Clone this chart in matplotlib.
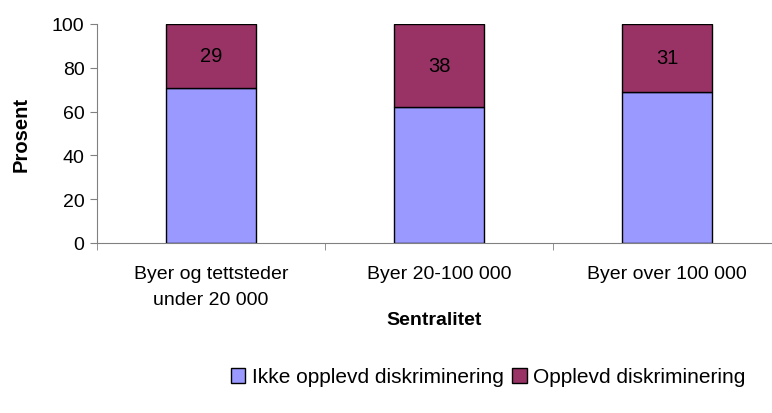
import matplotlib.pyplot as plt
import numpy as np

plt.rcParams['font.family'] = ['Liberation Sans', 'DejaVu Sans']

kategorier = ['Byer og tettsteder\nunder 20 000', 'Byer 20-100 000', 'Byer over 100 000']
ikke_opplevd = [71, 62, 69]
opplevd = [29, 38, 31]
serier = ['Ikke opplevd diskriminering', 'Opplevd diskriminering']

fig = plt.figure(figsize=(7.72, 4.14), dpi=100)
ax = fig.add_axes([97 / 772, 1 - 244 / 414, 675 / 772, 219 / 414])

x = np.arange(len(kategorier))
b1 = ax.bar(x, ikke_opplevd, width=0.395, color='#9999FF', edgecolor='black',
            linewidth=1, label=serier[0])
b2 = ax.bar(x, opplevd, width=0.395, bottom=ikke_opplevd, color='#993366',
            edgecolor='black', linewidth=1, label=serier[1])
for i, v in enumerate(opplevd):
    ax.text(x[i], ikke_opplevd[i] + v / 2, str(v), ha='center', va='center', fontsize=14.5)

ax.set_xlim(-0.5, 2.46)
ax.set_ylim(0, 100)
ax.set_yticks(range(0, 101, 20))
ax.set_xticks([-0.5, 0.5, 1.5], minor=True)
ax.set_xticks(x)
ax.set_xticklabels(kategorier, fontsize=14, linespacing=1.7)
ax.tick_params(axis='x', which='major', length=0, pad=16)
ax.tick_params(axis='x', which='minor', length=5, color='#808080')
ax.tick_params(axis='y', labelsize=14, length=5, color='#808080', pad=4)

for s in ['top', 'right']:
    ax.spines[s].set_visible(False)
for s in ['left', 'bottom']:
    ax.spines[s].set_color('#808080')

ax.set_ylabel('Prosent', fontsize=14.5, fontweight='bold', labelpad=15)
ax.set_xlabel('Sentralitet', fontsize=14, fontweight='bold', labelpad=2)

fig.legend(handles=[b1, b2], loc='center', bbox_to_anchor=(488 / 772, 1 - 378 / 414),
           ncol=2, frameon=False, fontsize=15, handlelength=0.7, handleheight=0.7,
           handletextpad=0.3, columnspacing=0.4)

fig.savefig('out.png', dpi=100)
